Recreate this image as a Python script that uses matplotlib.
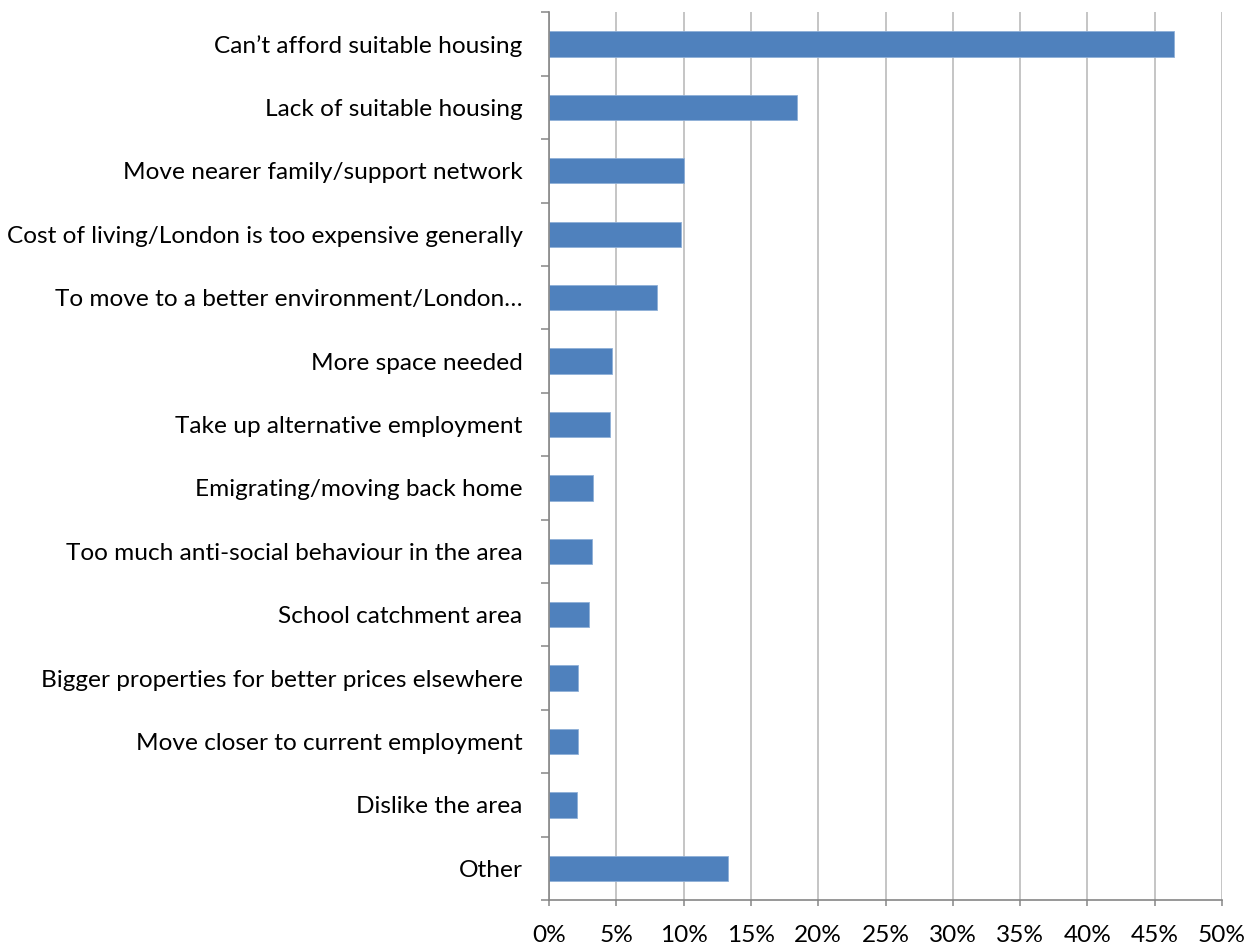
import matplotlib
matplotlib.use("Agg")
import matplotlib.pyplot as plt
from matplotlib.ticker import FixedLocator, PercentFormatter
import numpy as np

categories = [
    "Can\u2019t afford suitable housing",
    "Lack of suitable housing",
    "Move nearer family/support network",
    "Cost of living/London is too expensive generally",
    "To move to a better environment/London\u2026",
    "More space needed",
    "Take up alternative employment",
    "Emigrating/moving back home",
    "Too much anti-social behaviour in the area",
    "School catchment area",
    "Bigger properties for better prices elsewhere",
    "Move closer to current employment",
    "Dislike the area",
    "Other",
]
shares = [46.4, 18.4, 10.0, 9.8, 8.0, 4.7, 4.5, 3.3, 3.2, 2.95, 2.15, 2.13, 2.06, 13.3]
x_ticks = [0, 5, 10, 15, 20, 25, 30, 35, 40, 45, 50]

plt.rcParams["font.family"] = ["Lato", "DejaVu Sans"]

fig = plt.figure(figsize=(12.55, 9.47), dpi=100)
ax = fig.add_axes([549 / 1255, 1 - 900 / 947, (1222 - 549) / 1255, (900 - 12.3) / 947])

y = np.arange(len(categories))
ax.barh(y, shares, height=0.4, color="#4F81BD", edgecolor="#8FB0D8",
        linewidth=0.6, zorder=3)

ax.set_ylim(len(categories) - 0.5, -0.5)
ax.set_xlim(0, 50)

# category labels at bar centres, tick marks at category boundaries
ax.set_yticks(y)
ax.set_yticklabels(categories, fontsize=17.6, color="#000000")
ax.tick_params(axis="y", which="major", length=0, pad=19)
ax.yaxis.set_minor_locator(FixedLocator(np.arange(-0.5, len(categories), 1.0)))
ax.tick_params(axis="y", which="minor", length=5.5, width=1.1, color="#868686",
               direction="out")

ax.set_xticks(x_ticks)
ax.xaxis.set_major_formatter(PercentFormatter(decimals=0))
ax.tick_params(axis="x", which="major", length=4, width=1.1, color="#868686",
               direction="out", labelsize=17.6, pad=14)

ax.grid(axis="x", color="#C0C0C0", linewidth=1.3, zorder=0)
ax.set_axisbelow(True)

for side in ("top", "right"):
    ax.spines[side].set_visible(False)
for side in ("left", "bottom"):
    ax.spines[side].set_color("#868686")
    ax.spines[side].set_linewidth(1.2)
    ax.spines[side].set_zorder(4)

fig.savefig("out.png", dpi=100, facecolor="white")
